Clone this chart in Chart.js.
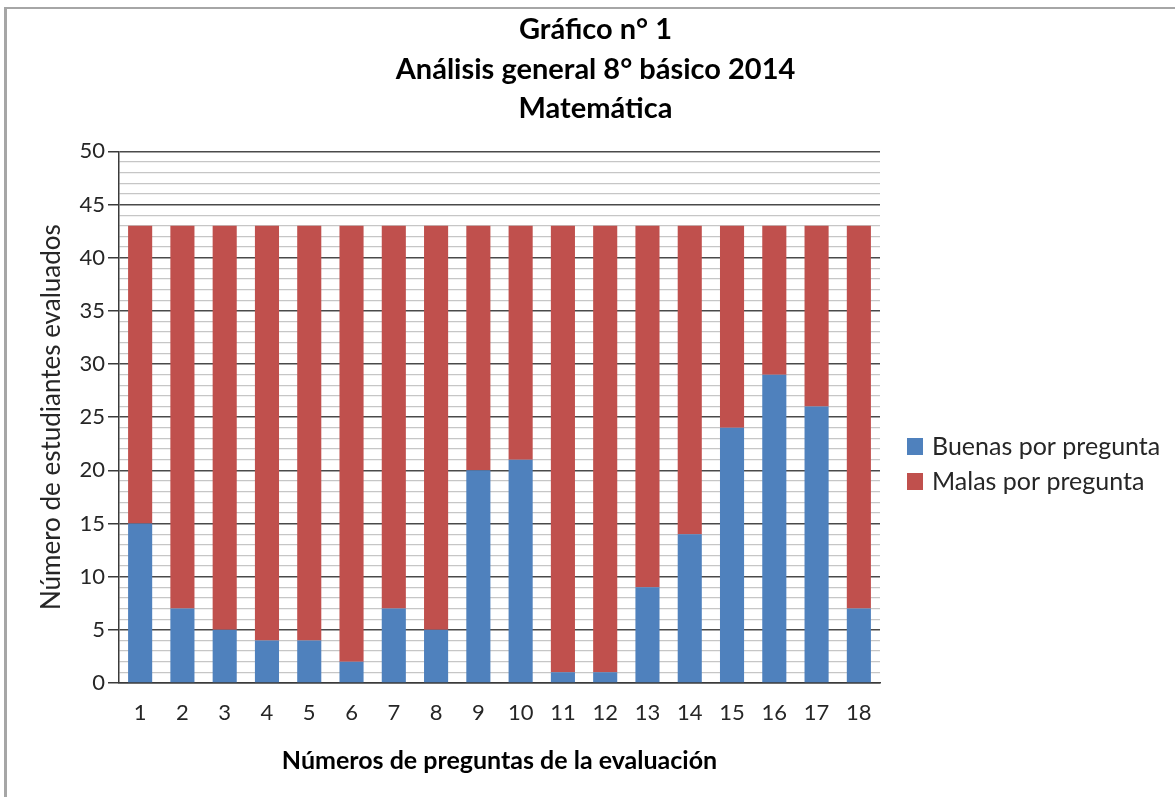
<!DOCTYPE html>
<html><head><meta charset="utf-8">
<script src="https://cdn.jsdelivr.net/npm/chart.js@4.4.0/dist/chart.umd.min.js"></script>
<style>
html,body{margin:0;padding:0;background:#fff;}
#wrap{position:relative;width:1175px;height:797px;overflow:hidden;}
#frame{position:absolute;left:4px;top:7px;right:-10px;bottom:-10px;border-top:2px solid #a6a6a6;border-left:3px solid #a6a6a6;pointer-events:none;}
canvas{position:absolute;left:0;top:0;}
</style></head><body>
<div id="wrap"><canvas id="c" width="1175" height="797"></canvas><div id="frame"></div></div>
<script>
const categories = ['1','2','3','4','5','6','7','8','9','10','11','12','13','14','15','16','17','18'];
const buenas = [15,7,5,4,4,2,7,5,20,21,1,1,9,14,24,29,26,7];
const malas  = [28,36,38,39,39,41,36,38,23,22,42,42,34,29,19,14,17,36];
const yTickLabels = ['0','5','10','15','20','25','30','35','40','45','50'];
const titleLines = ['Gráfico n° 1','Análisis general 8° básico 2014','Matemática'];
const seriesNames = ['Buenas por pregunta','Malas por pregunta'];
const xTitle = 'Números de preguntas de la evaluación';
const yTitle = 'Número de estudiantes evaluados';

const FONT = 'Lato, "Open Sans", sans-serif';

const sideLegend = {
  id: 'sideLegend',
  afterDraw(chart) {
    const ctx = chart.ctx;
    ctx.save();
    ctx.font = '25px ' + FONT;
    ctx.textBaseline = 'middle';
    chart.data.datasets.forEach((ds, i) => {
      const y = 446 + i * 35;
      ctx.fillStyle = ds.backgroundColor;
      ctx.fillRect(907, y - 8, 16, 17);
      ctx.fillStyle = '#262626';
      ctx.fillText(ds.label, 932, y + 1);
    });
    ctx.restore();
  }
};

new Chart(document.getElementById('c'), {
  type: 'bar',
  data: {
    labels: categories,
    datasets: [
      { label: seriesNames[0], data: buenas, backgroundColor: '#4F81BD', barPercentage: 0.57, categoryPercentage: 1.0 },
      { label: seriesNames[1], data: malas, backgroundColor: '#C0504D', barPercentage: 0.57, categoryPercentage: 1.0 }
    ]
  },
  options: {
    responsive: false,
    animation: false,
    layout: { padding: { left: 16, right: 0, top: 0, bottom: 0 } },
    plugins: {
      legend: { display: false },
      tooltip: { enabled: false },
      title: {
        display: true,
        text: titleLines,
        color: '#000',
        font: { family: FONT, size: 29, weight: 'bold', lineHeight: 1.36 },
        padding: { top: 10, bottom: 23 }
      }
    },
    scales: {
      x: {
        stacked: true,
        grid: { display: false, drawTicks: false },
        border: { display: true, color: '#3a3a3a', width: 1.5 },
        ticks: { color: '#262626', font: { family: FONT, size: 22 }, padding: 17, maxRotation: 0 },
        title: { display: true, text: xTitle, color: '#000', font: { family: FONT, size: 25, weight: 'bold' }, padding: { top: 0, bottom: 21 } },
        afterFit(scale) { scale.height = 114; }
      },
      y: {
        stacked: true,
        min: 0, max: 50,
        grid: {
          color: (c) => (c.tick && c.tick.value % 5 === 0) ? '#4a4a4a' : '#c6c6c6',
          lineWidth: (c) => (c.tick && c.tick.value % 5 === 0) ? 1.5 : 1.2,
          tickColor: (c) => (c.tick && c.tick.value % 5 === 0) ? '#3a3a3a' : 'rgba(0,0,0,0)',
          tickLength: 11
        },
        border: { display: true, color: '#3a3a3a', width: 1.5 },
        ticks: {
          stepSize: 1, autoSkip: false, padding: 3,
          color: '#262626', font: { family: FONT, size: 22 },
          callback: (v) => (v % 5 === 0) ? yTickLabels[v / 5] : ''
        },
        title: { display: true, text: yTitle, color: '#262626', font: { family: FONT, size: 26 }, padding: { top: 20, bottom: 0 } },
        afterFit(scale) { scale.width = 103; }
      },
      legendSpace: {
        type: 'linear',
        position: 'right',
        display: true,
        grid: { display: false, drawTicks: false },
        border: { display: false },
        ticks: { display: false },
        afterFit(scale) { scale.width = 295; }
      }
    }
  },
  plugins: [sideLegend]
});
</script>
</body></html>
